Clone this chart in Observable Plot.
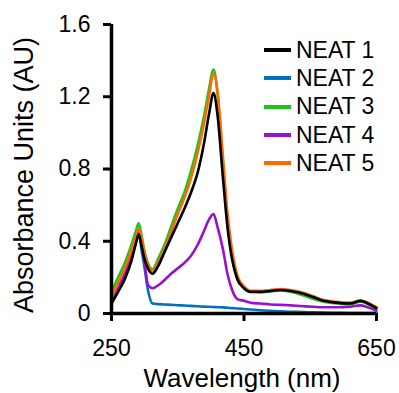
<!DOCTYPE html>
<html>
<head>
<meta charset="utf-8">
<script src="https://cdn.jsdelivr.net/npm/d3@7"></script>
<script src="https://cdn.jsdelivr.net/npm/@observablehq/plot@0.6"></script>
<style>
  html, body { margin: 0; padding: 0; background: #fff; }
  #wrap { position: relative; width: 399px; height: 393px; font-family: "Liberation Sans", Arial, sans-serif; }
  #legend { position: absolute; left: 264px; top: 36px; font-size: 23px; color: #000; }
  #legend .row { display: flex; align-items: center; height: 28.3px; }
  #legend .sw { width: 27px; height: 4px; margin-right: 5px; }
</style>
</head>
<body>
<div id="wrap"></div>
<script>
const wavelength = [250, 260, 270, 280, 287, 291, 295, 300, 305, 312, 320, 330, 340, 350, 360, 370, 380, 390, 397, 404, 410, 418, 425, 432, 440, 450, 460, 475, 490, 505, 520, 540, 555, 570, 590, 610, 626, 640, 650];

const neat1 = [0.055, 0.12, 0.19, 0.29, 0.39, 0.44, 0.38, 0.30, 0.25, 0.22, 0.26, 0.34, 0.42, 0.50, 0.58, 0.67, 0.78, 0.95, 1.10, 1.22, 1.10, 0.76, 0.48, 0.30, 0.19, 0.14, 0.12, 0.12, 0.125, 0.13, 0.125, 0.11, 0.09, 0.07, 0.06, 0.055, 0.07, 0.05, 0.03];
const neat2 = [0.07, 0.15, 0.22, 0.32, 0.41, 0.46, 0.36, 0.25, 0.13, 0.055, 0.052, 0.05, 0.048, 0.046, 0.044, 0.042, 0.04, 0.038, 0.037, 0.036, 0.035, 0.034, 0.032, 0.03, 0.028, 0.025, 0.022, 0.018, 0.015, 0.012, 0.01, 0.008, 0.006, 0.005, 0.004, 0.003, 0.003, 0.002, 0.002];
const neat3 = [0.12, 0.20, 0.28, 0.38, 0.46, 0.50, 0.44, 0.34, 0.28, 0.245, 0.30, 0.38, 0.48, 0.58, 0.67, 0.79, 0.93, 1.10, 1.24, 1.35, 1.22, 0.84, 0.52, 0.32, 0.19, 0.14, 0.12, 0.118, 0.122, 0.128, 0.12, 0.10, 0.08, 0.065, 0.055, 0.052, 0.065, 0.048, 0.03];
const neat4 = [0.08, 0.15, 0.22, 0.32, 0.41, 0.46, 0.40, 0.28, 0.16, 0.14, 0.155, 0.185, 0.22, 0.25, 0.28, 0.32, 0.38, 0.46, 0.52, 0.55, 0.48, 0.36, 0.22, 0.13, 0.08, 0.07, 0.06, 0.055, 0.05, 0.048, 0.045, 0.04, 0.037, 0.035, 0.035, 0.038, 0.045, 0.03, 0.015];
const neat5 = [0.09, 0.17, 0.25, 0.35, 0.43, 0.47, 0.42, 0.33, 0.27, 0.23, 0.28, 0.36, 0.45, 0.55, 0.64, 0.75, 0.89, 1.06, 1.20, 1.33, 1.23, 0.88, 0.56, 0.35, 0.21, 0.15, 0.125, 0.125, 0.13, 0.135, 0.13, 0.115, 0.095, 0.075, 0.065, 0.06, 0.072, 0.055, 0.035];

const seriesNames = ["NEAT 1", "NEAT 2", "NEAT 3", "NEAT 4", "NEAT 5"];
const seriesColors = ["#000000", "#0070C0", "#1EC31E", "#9A10D0", "#FF6A00"];
const seriesValues = [neat1, neat2, neat3, neat4, neat5];
const drawOrder = [1, 3, 2, 4, 0];

const xTicks = [250, 450, 650];
const yTicks = [0, 0.4, 0.8, 1.2, 1.6];
const xTitle = "Wavelength (nm)";
const yTitle = "Absorbance Units (AU)";

const rows = [];
for (const i of drawOrder) {
  wavelength.forEach((w, j) => rows.push({series: seriesNames[i], wl: w, a: seriesValues[i][j]}));
}

const font = "Liberation Sans, Arial, sans-serif";
const chart = Plot.plot({
  width: 399,
  height: 393,
  marginLeft: 111,
  marginRight: 23,
  marginTop: 24,
  marginBottom: 80,
  style: {fontFamily: font, color: "#000", background: "#fff"},
  x: {domain: [250, 650], label: null},
  y: {domain: [0, 1.6], label: null},
  color: {domain: seriesNames, range: seriesColors},
  marks: [
    ...drawOrder.map(i => Plot.line(rows.filter(d => d.series === seriesNames[i]), {
      x: "wl", y: "a", stroke: seriesColors[i], strokeWidth: 2.6, curve: "monotone-x"
    })),
    Plot.axisX({ticks: xTicks, tickSize: 8, tickPadding: 18, strokeWidth: 3, fontSize: 23, label: null, tickFormat: d => String(d)}),
    Plot.axisY({ticks: yTicks, tickSize: 8, tickPadding: 13, strokeWidth: 3, fontSize: 23, label: null, tickFormat: d => d === 0 ? "0" : d.toFixed(1)}),
    Plot.ruleY([0], {strokeWidth: 3.5}),
    Plot.ruleX([250], {strokeWidth: 3.5}),
    Plot.text([xTitle], {frameAnchor: "bottom", lineAnchor: "middle", textAnchor: "middle", dy: 65, dx: -2, fontSize: 26, text: d => d}),
    Plot.text([yTitle], {frameAnchor: "left", lineAnchor: "middle", textAnchor: "middle", dx: -87, dy: 6, rotate: -90, fontSize: 27, text: d => d})
  ]
});

const wrap = document.getElementById("wrap");
wrap.appendChild(chart);

const legend = document.createElement("div");
legend.id = "legend";
seriesNames.forEach((name, i) => {
  const row = document.createElement("div");
  row.className = "row";
  const sw = document.createElement("span");
  sw.className = "sw";
  sw.style.background = seriesColors[i];
  const label = document.createElement("span");
  label.textContent = name;
  row.appendChild(sw);
  row.appendChild(label);
  legend.appendChild(row);
});
wrap.appendChild(legend);
</script>
</body>
</html>
